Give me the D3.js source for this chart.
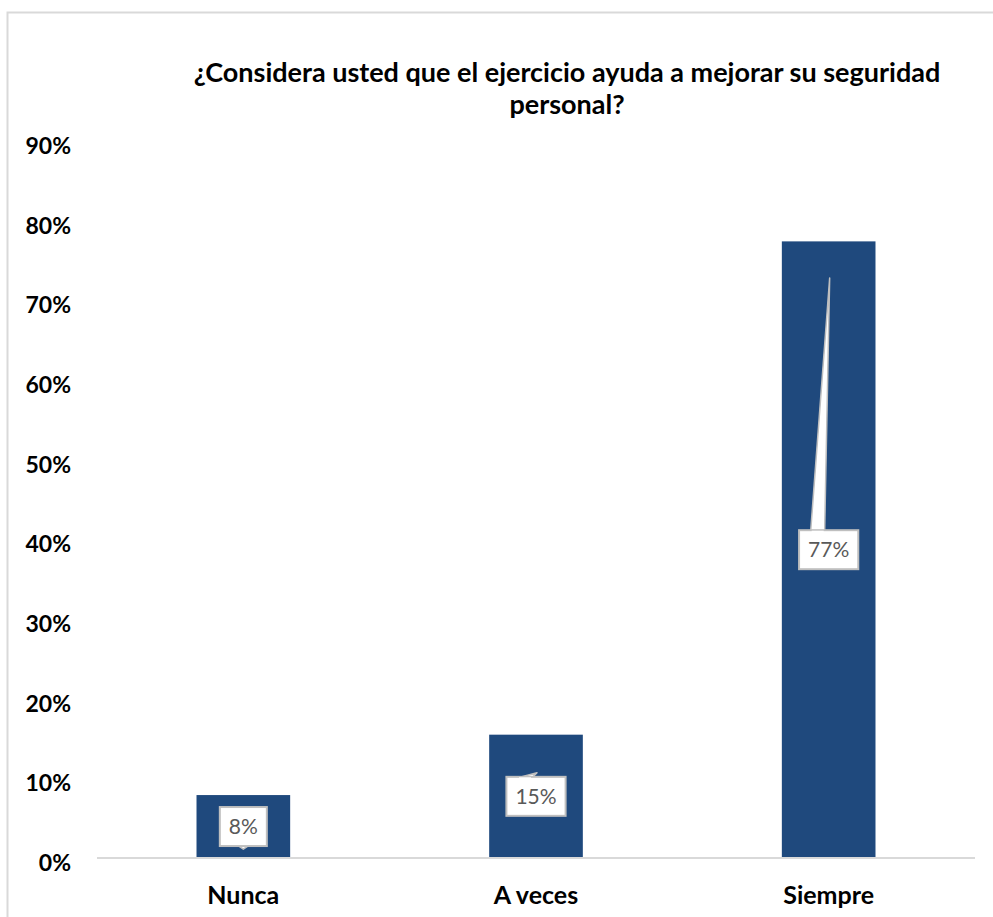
<!DOCTYPE html>
<html>
<head>
<meta charset="utf-8">
<script src="https://cdn.jsdelivr.net/npm/d3@7/dist/d3.min.js"></script>
<style>
  html, body { margin: 0; padding: 0; background: #fff; }
  svg { display: block; }
</style>
</head>
<body>
<svg id="chart" width="993" height="917"></svg>
<script>
// Survey answers and their shares
const categories = ["Nunca", "A veces", "Siempre"];
const shares = [0.079, 0.1548, 0.774];
const yTicks = [0, 0.1, 0.2, 0.3, 0.4, 0.5, 0.6, 0.7, 0.8, 0.9];
const titleLines = ["¿Considera usted que el ejercicio ayuda a mejorar su seguridad", "personal?"];
// Where each callout pointer ends, expressed on the value axis
const calloutTips = [0.011, 0.107, 0.728];

const svg = d3.select("#chart");
const W = 993, H = 917;
const plot = { left: 97, right: 975, top: 141, bottom: 858 };
const barColor = "#1f497d";
const frameColor = "#d9d9d9";
const font = "Lato, 'Open Sans', sans-serif";

svg.append("rect").attr("width", W).attr("height", H).attr("fill", "#fff");

// chart frame (runs off the right and bottom of the page)
svg.append("rect")
  .attr("x", 7.5).attr("y", 12.5)
  .attr("width", W + 20).attr("height", H + 20)
  .attr("fill", "none").attr("stroke", frameColor).attr("stroke-width", 2);

// title
svg.append("text")
  .attr("x", 567).attr("y", 82)
  .attr("text-anchor", "middle")
  .attr("font-family", font)
  .attr("font-weight", "bold").attr("font-size", 27)
  .selectAll("tspan").data(titleLines).join("tspan")
  .attr("x", 567).attr("dy", (d, i) => i === 0 ? 0 : 32)
  .text(d => d);

const x = d3.scaleBand()
  .domain(categories)
  .range([plot.left, plot.right])
  .paddingInner(0.68).paddingOuter(0.34);

const y = d3.scaleLinear().domain([0, 0.9]).range([plot.bottom, plot.top]);

// y axis: labels only
const yAxis = d3.axisLeft(y).tickValues(yTicks).tickFormat(d3.format(".0%")).tickSize(0).tickPadding(0);
const gy = svg.append("g").attr("transform", "translate(71,0)").call(yAxis);
gy.select(".domain").remove();
gy.selectAll("text")
  .attr("font-family", font)
  .attr("font-weight", "bold").attr("font-size", 23)
  .attr("fill", "#000").attr("dy", "0.55em");

// bars
svg.append("g").selectAll("rect").data(shares).join("rect")
  .attr("x", (d, i) => x(categories[i]))
  .attr("y", d => y(d))
  .attr("width", x.bandwidth())
  .attr("height", d => y(0) - y(d))
  .attr("fill", barColor);

// x axis line and category labels
const xAxis = d3.axisBottom(x).tickSize(0).tickPadding(0);
const gx = svg.append("g").attr("transform", `translate(0,${plot.bottom})`).call(xAxis);
gx.select(".domain").attr("stroke", frameColor).attr("stroke-width", 2)
  .attr("d", `M${plot.left},0H${plot.right}`);
gx.selectAll("text")
  .attr("font-family", font)
  .attr("font-weight", "bold").attr("font-size", 25)
  .attr("fill", "#000").attr("y", 46).attr("dy", 0);

// data callouts, centred halfway up each bar
const fmt = d3.format(".0%");
const labels = svg.append("g").selectAll("g").data(shares).join("g")
  .attr("transform", (d, i) => `translate(${x(categories[i]) + x.bandwidth() / 2},${y(d / 2)})`);

labels.each(function (d, i) {
  const g = d3.select(this);
  const txt = g.append("text")
    .attr("text-anchor", "middle").attr("dy", "0.36em")
    .attr("font-family", font)
    .attr("font-size", 21).attr("fill", "#595959")
    .text(fmt(d));
  const w = txt.node().getComputedTextLength() + 18;
  const h = 39;
  const tipY = y(calloutTips[i]) - y(d / 2);
  let pointer;
  if (tipY < 0) {
    pointer = [[-18, -h / 2 + 1], [1, tipY], [-4, -h / 2 + 1]];
  } else {
    pointer = [[-6, h / 2 - 1], [0, tipY], [6, h / 2 - 1]];
  }
  g.insert("path", "text")
    .attr("d", d3.line()(pointer) + "Z")
    .attr("fill", "#fff").attr("stroke", "#bfbfbf").attr("stroke-width", 1.5)
    .attr("stroke-linejoin", "round");
  g.insert("rect", "text")
    .attr("x", -w / 2).attr("y", -h / 2)
    .attr("width", w).attr("height", h)
    .attr("fill", "#fff").attr("stroke", "#bfbfbf").attr("stroke-width", 2);
  // cover the seam between pointer and box
  if (tipY < 0) {
    g.insert("path", "text")
      .attr("d", `M-17,${-h / 2 + 2}H-5`)
      .attr("stroke", "#fff").attr("stroke-width", 3);
  }
});
</script>
</body>
</html>
